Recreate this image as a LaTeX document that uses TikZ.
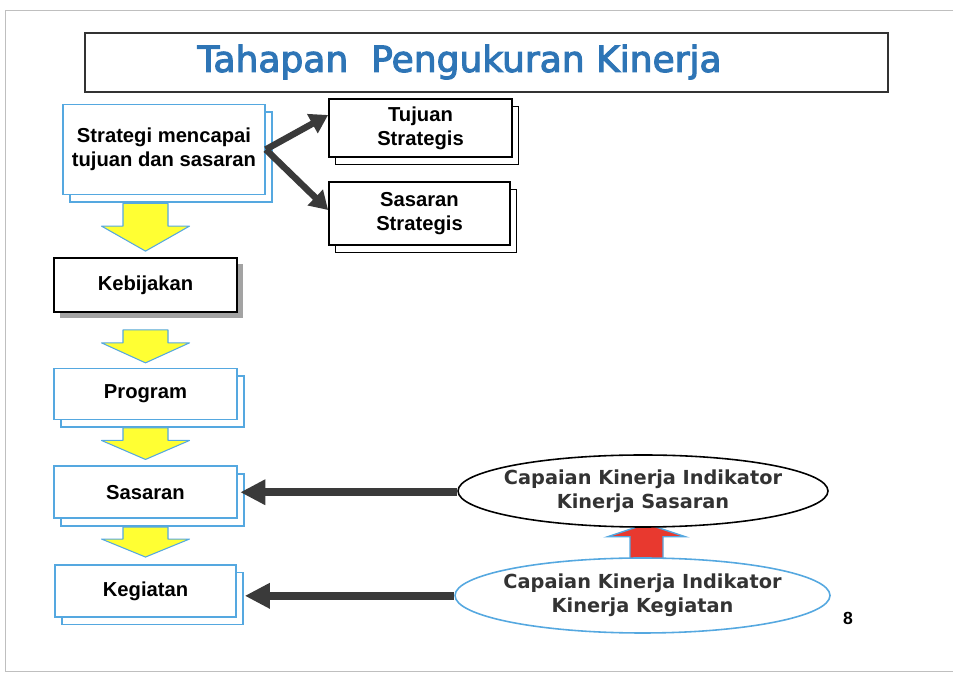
\documentclass[tikz,border=0pt]{standalone}
\usepackage{fontspec}
\setmainfont{Liberation Sans}
\newfontfamily\komik{DejaVu Sans}
\newfontfamily\komikjudul{DejaVu Sans}[FakeBold=3]
\usepackage{tikz}
\usetikzlibrary{arrows.meta,positioning,shapes.geometric,shadows,calc,backgrounds}

\definecolor{birujudul}{HTML}{2E75B6}
\definecolor{birugaris}{HTML}{55A8E0}
\definecolor{kuning}{HTML}{FFFF33}
\definecolor{merah}{HTML}{E8392F}
\definecolor{gelap}{HTML}{3A3A3A}
\definecolor{teksgelap}{HTML}{333333}

\begin{document}
\begin{tikzpicture}[
    font=\bfseries\fontsize{11.5}{13.5}\selectfont,
    kotak/.style={draw=black, line width=1pt, fill=white, align=center, minimum width=3.66cm, minimum height=1.04cm, inner sep=2pt},
    kotakbiru/.style={kotak, draw=birugaris, line width=0.9pt, copy shadow={shadow xshift=0.14cm, shadow yshift=-0.15cm, draw=birugaris, fill=white}},
    kotakhitam/.style={kotak, copy shadow={shadow xshift=0.13cm, shadow yshift=-0.15cm, draw=black, fill=white}},
    elips/.style={draw, ellipse, line width=0.9pt, fill=white, align=center, inner xsep=-0.3cm, inner ysep=0pt, text=teksgelap, font=\komik\bfseries\fontsize{11}{13.5}\selectfont},
    panahtebal/.style={-{Triangle[length=0.5cm,width=0.48cm]}, line width=0.16cm, draw=gelap},
    panahmiring/.style={-{Triangle[length=0.36cm,width=0.42cm]}, line width=0.13cm, draw=gelap},
    blokkuning/.style={draw=birugaris, line width=0.6pt, fill=kuning, line join=round},
    blokmerah/.style={draw=birugaris, line width=0.8pt, fill=merah}
  ]
    \useasboundingbox (0,0) rectangle (19.16,13.48);
    \draw[gray!50, line width=0.5pt] (19.06,13.28) -- (0.1,13.28) -- (0.1,0.06) -- (19.06,0.06);

    % judul
    \node[draw=black!80, line width=1.1pt, minimum width=16.06cm, minimum height=1.18cm] (judul) at (9.73,12.23) {};
    \node[text=birujudul, font=\komikjudul\fontsize{20.5}{24}\selectfont] (judulteks) at (9.19,12.24) {Tahapan~~Pengukuran Kinerja};

    % kotak-kotak
    \node[kotakbiru, minimum width=4.04cm, minimum height=1.8cm] (strategi) at (3.28,10.49) {Strategi mencapai\\tujuan dan sasaran};
    \node[kotakhitam, minimum height=1.16cm] (tujuan) at (8.41,10.92) {Tujuan\\Strategis};
    \node[kotakhitam, minimum width=3.62cm, minimum height=1.26cm] (sasstrat) at (8.39,9.21) {Sasaran\\Strategis};
    \node[kotak, minimum height=1.08cm, drop shadow={shadow xshift=0.12cm, shadow yshift=-0.12cm, fill=black!45, opacity=0.8}] (kebijakan) at (2.91,7.78) {Kebijakan};
    \node[kotakbiru, minimum height=1.02cm, below=1.1cm of kebijakan] (program) {Program};
    \node[kotakbiru, below=0.9cm of program] (sasaran) {Sasaran};
    \node[kotakbiru, minimum width=3.62cm, below=0.9cm of sasaran] (kegiatan) {Kegiatan};

    % elips
    \node[elips, minimum width=7.4cm, minimum height=1.44cm] (capaiansasaran) at (12.86,3.66) {Capaian Kinerja Indikator\\Kinerja Sasaran};
    \node[elips, draw=birugaris, minimum width=7.5cm, minimum height=1.5cm] (capaiankegiatan) at (12.85,1.57) {Capaian Kinerja Indikator\\Kinerja Kegiatan};
    \node[font=\bfseries\fontsize{10}{12}\selectfont] (halaman) at (16.96,1.12) {8};

    % panah kuning
    \draw[blokkuning] let \p1=(strategi.south), \p2=(kebijakan.north) in
      (\x2-0.45cm,\y1-0.16cm) -- (\x2+0.45cm,\y1-0.16cm) -- (\x2+0.45cm,\y2+0.62cm) -- (\x2+0.88cm,\y2+0.62cm)
      -- (\x2,\y2+0.12cm) -- (\x2-0.88cm,\y2+0.62cm) -- (\x2-0.45cm,\y2+0.62cm) -- cycle;
    \draw[blokkuning] let \p1=(kebijakan.south), \p2=(program.north) in
      (\x2-0.45cm,\y1-0.34cm) -- (\x2+0.45cm,\y1-0.34cm) -- (\x2+0.45cm,\y2+0.5cm) -- (\x2+0.88cm,\y2+0.5cm)
      -- (\x2,\y2+0.1cm) -- (\x2-0.88cm,\y2+0.5cm) -- (\x2-0.45cm,\y2+0.5cm) -- cycle;
    \draw[blokkuning] let \p1=(program.south), \p2=(sasaran.north) in
      (\x2-0.45cm,\y1-0.15cm) -- (\x2+0.45cm,\y1-0.15cm) -- (\x2+0.45cm,\y2+0.5cm) -- (\x2+0.88cm,\y2+0.5cm)
      -- (\x2,\y2+0.12cm) -- (\x2-0.88cm,\y2+0.5cm) -- (\x2-0.45cm,\y2+0.5cm) -- cycle;
    \draw[blokkuning] let \p1=(sasaran.south), \p2=(kegiatan.north) in
      (\x2-0.45cm,\y1-0.16cm) -- (\x2+0.45cm,\y1-0.16cm) -- (\x2+0.45cm,\y2+0.5cm) -- (\x2+0.88cm,\y2+0.5cm)
      -- (\x2,\y2+0.14cm) -- (\x2-0.88cm,\y2+0.5cm) -- (\x2-0.45cm,\y2+0.5cm) -- cycle;

    % panah merah, kepalanya tertutup elips
    \begin{scope}[on background layer]
      \draw[blokmerah] let \p1=(capaiankegiatan.north), \p2=(capaiansasaran.south) in
        (\x1-0.25cm,\y1-0.05cm) -- (\x1+0.41cm,\y1-0.05cm) -- (\x1+0.41cm,\y2-0.18cm) -- (\x1+0.86cm,\y2-0.18cm)
        -- (\x1+0.08cm,\y2+0.08cm) -- (\x1-0.70cm,\y2-0.18cm) -- (\x1-0.25cm,\y2-0.18cm) -- cycle;
    \end{scope}

    % panah gelap
    \draw[panahmiring] (strategi.east) -- ([yshift=0.26cm]tujuan.west);
    \draw[panahmiring] (strategi.east) -- ([yshift=0.07cm]sasstrat.west);
    \draw[panahtebal] (sasaran.east -| capaiansasaran.west) -- ([xshift=0.05cm]sasaran.east);
    \draw[panahtebal] ([yshift=-0.1cm]kegiatan.east -| capaiankegiatan.west) -- ([xshift=0.16cm,yshift=-0.1cm]kegiatan.east);
  \end{tikzpicture}
\end{document}
